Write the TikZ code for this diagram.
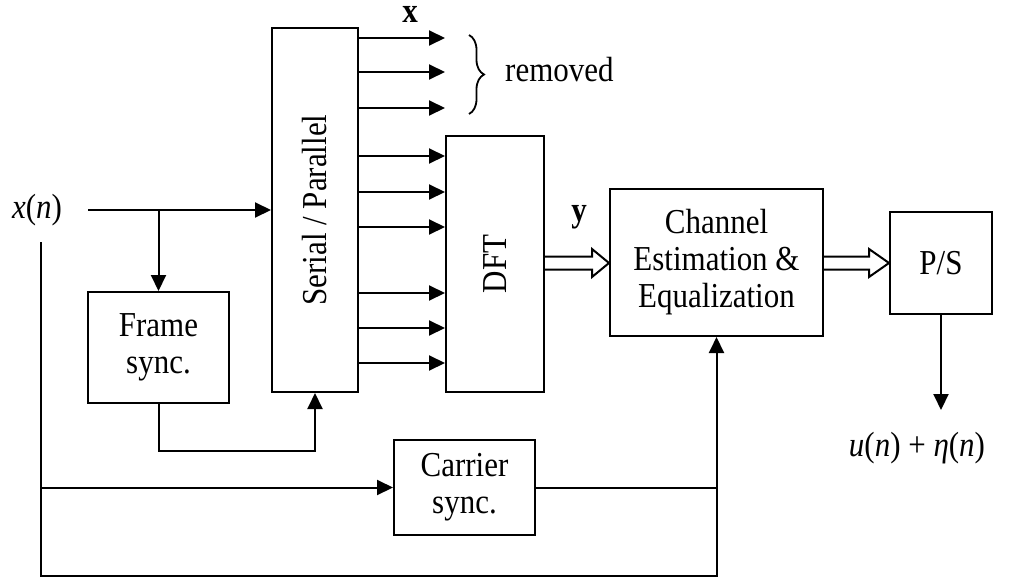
\documentclass[tikz,border=0pt]{standalone}
\usepackage{fontspec}
\setmainfont[FakeStretch=0.885]{Liberation Serif}
\usetikzlibrary{arrows.meta,decorations.pathreplacing,calc}
\begin{document}
\begin{tikzpicture}[x=1pt,y=-1pt,
  box/.style={draw, line width=2pt, inner sep=0pt, align=center, font=\fontsize{35}{37}\selectfont},
  lbl/.style={inner sep=0pt, align=center, font=\fontsize{35}{37}\selectfont},
  conn/.style={line width=2pt},
  arr/.style={conn, -{Triangle[length=16pt,width=15pt]}},
  hollow/.style={line width=2pt, fill=white, line join=miter}]
\useasboundingbox (0,0) rectangle (1016,578);
% blocks
\node[box, minimum width=86pt, minimum height=364pt] (sp) at (315,210) {\rotatebox{90}{Serial / Parallel}};
\node[box, minimum width=98pt, minimum height=256pt] (dft) at (495,264) {\rotatebox{90}{DFT}};
\node[box, minimum width=213pt, minimum height=147pt] (ch) at (716.5,262.5) {Channel\\Estimation \&\\Equalization};
\node[box, minimum width=102pt, minimum height=102pt] (ps) at (941,263) {P/S};
\node[box, minimum width=141pt, minimum height=111pt] (fs) at (158.5,347.5) {Frame\\sync.};
\node[box, minimum width=141pt, minimum height=95pt] (cs) at (464.5,487.5) {Carrier\\sync.};
% labels
\node[lbl] (xn) at (37,210) {\textit{x}(\textit{n})};
\node[lbl] (un) at (917,448) {\textit{u}(\textit{n}) + \textit{η}(\textit{n})};
\node[lbl, font=\fontsize{35}{37}\selectfont\bfseries, text height=15pt, text depth=0pt, anchor=base] (xl) at (410,23) {x};
\node[lbl, font=\fontsize{35}{37}\selectfont\bfseries, anchor=base] (yl) at (579,221) {y};
\node[lbl, anchor=west] (rm) at (505,70) {removed};
% input
\coordinate (xin) at (88,210);
\draw[arr] (xin) -- (sp.west |- xin);
\draw[arr] (fs.north |- xin) -- (fs.north);
\draw[arr] (fs.south) -- ++(0,47) -| (sp.south);
% removed outputs
\foreach \i/\y in {1/38,2/72,3/108} {
  \coordinate (r\i) at (445,\y);
  \draw[arr] (sp.east |- r\i) -- (r\i);
}
\draw[line width=1.8pt, decorate, decoration={brace, amplitude=15pt}] (469,35) -- (469,114);
% S/P to DFT
\foreach \y in {156,192,227,293,328,363} {
  \draw[arr] (sp.east |- 0,\y) -- (dft.west |- 0,\y);
}
% hollow arrows
\coordinate (h1) at (dft.east |- 0,263);
\coordinate (h1t) at (ch.west |- 0,263);
\draw[hollow] ($(h1)+(0,-6.5)$) -- ($(h1t)+(-17,-6.5)$) -- ($(h1t)+(-17,-14)$) -- (h1t) -- ($(h1t)+(-17,14)$) -- ($(h1t)+(-17,6.5)$) -- ($(h1)+(0,6.5)$);
\coordinate (h2) at (ch.east |- 0,263);
\coordinate (h2t) at (ps.west |- 0,263);
\draw[hollow] ($(h2)+(0,-6.5)$) -- ($(h2t)+(-20,-6.5)$) -- ($(h2t)+(-20,-14)$) -- (h2t) -- ($(h2t)+(-20,14)$) -- ($(h2t)+(-20,6.5)$) -- ($(h2)+(0,6.5)$);
% output
\coordinate (pso) at (941,410);
\draw[arr] (ps.south) -- (pso);
% lower loop
\coordinate (lv) at (41,242);
\coordinate (bl) at (41,576);
\draw[arr] (lv) -- (bl) -- (ch.south |- bl) -- (ch.south);
\draw[arr] (lv |- cs.west) -- (cs.west);
\draw[conn] (cs.east) -- (ch.south |- cs.east);
\end{tikzpicture}
\end{document}
